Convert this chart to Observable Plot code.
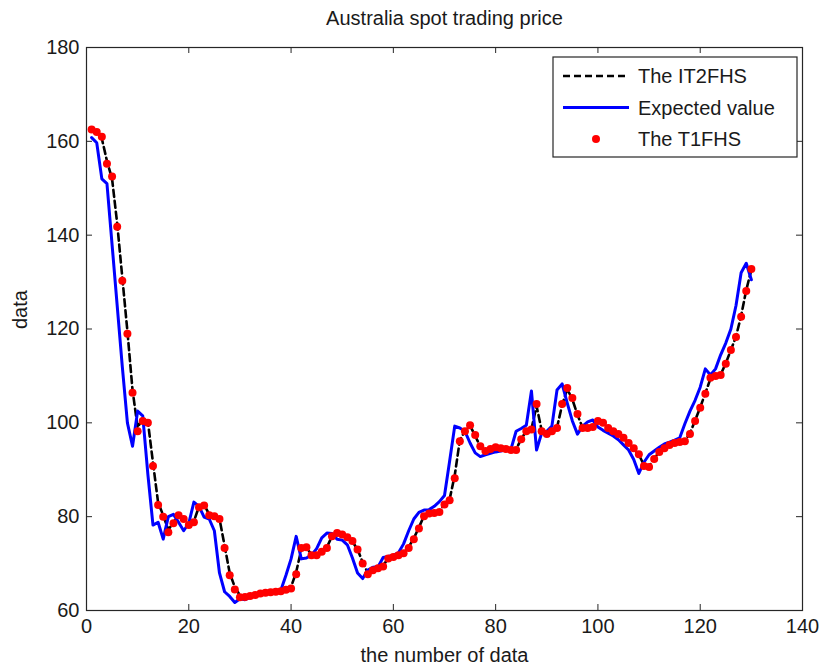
<!DOCTYPE html>
<html><head><meta charset="utf-8">
<script src="https://cdn.jsdelivr.net/npm/d3@7"></script>
<script src="https://cdn.jsdelivr.net/npm/@observablehq/plot@0.6"></script>
<style>body{margin:0;background:#fff} svg{display:block}</style>
</head><body><div id="chart"></div>
<script>
const title = "Australia spot trading price";
const xLabel = "the number of data";
const yLabel = "data";
const seriesNames = ["The IT2FHS", "Expected value", "The T1FHS"];
const xTicks = [0, 20, 40, 60, 80, 100, 120, 140];
const yTicks = [60, 80, 100, 120, 140, 160, 180];

// Expected value (actual series), x = 1..130
const expected = [160.8,159.7,152.0,151.0,138.0,125.0,112.0,100.0,95.0,102.5,
101.5,89.0,78.2,78.8,75.2,80.0,80.5,78.8,77.0,78.6,
83.1,82.2,79.9,79.5,77.0,68.0,64.0,63.0,61.7,62.5,
62.3,62.8,63.2,63.5,63.7,63.8,64.0,64.3,67.5,71.0,
75.8,71.0,71.2,71.8,73.2,75.5,76.5,76.4,75.2,75.0,
74.0,71.2,68.0,66.8,68.6,69.2,69.3,71.3,71.5,71.8,
72.3,74.2,77.0,79.5,80.9,81.4,81.5,82.2,83.2,84.5,
91.8,99.3,98.9,98.2,95.7,93.6,92.8,93.2,93.5,93.8,
94.0,94.2,94.4,98.2,98.8,99.5,106.8,94.2,97.8,98.2,
99.3,107.0,108.3,104.2,100.4,97.6,99.3,100.2,100.6,99.1,
98.4,97.8,97.2,96.4,95.3,94.2,92.2,89.2,91.6,93.2,
94.0,94.8,95.5,95.9,96.3,96.8,99.8,102.5,104.8,107.6,
111.5,110.2,111.5,114.5,117.0,120.0,125.0,132.0,134.0,130.5];

// The T1FHS forecast
const t1fhs = [162.5,162.0,161.0,155.2,152.5,141.8,130.3,119.0,106.4,98.2,
100.4,100.0,90.8,82.5,80.0,76.7,78.6,80.3,79.5,78.2,
78.8,82.0,82.4,80.3,80.1,79.5,73.3,67.5,64.5,62.8,
62.9,63.1,63.3,63.6,63.8,63.9,64.0,64.1,64.4,64.7,
67.7,73.3,73.5,71.8,71.8,72.5,73.3,75.8,76.5,76.2,
75.6,74.8,73.0,70.0,67.7,68.6,69.0,69.4,71.1,71.4,
71.8,72.2,73.3,75.2,77.5,80.1,80.7,80.8,81.0,82.6,
83.5,88.2,96.1,98.2,99.5,97.4,95.0,94.0,94.4,94.8,
94.6,94.4,94.2,94.2,96.5,98.2,98.6,104.0,98.2,97.6,
98.2,98.9,104.0,107.4,105.3,101.9,98.9,98.9,99.1,100.4,
100.0,98.9,98.2,97.6,96.8,95.7,94.6,93.3,90.8,90.6,
92.3,93.8,94.6,95.3,95.7,95.9,96.1,97.6,100.4,103.2,
106.2,109.6,110.0,110.2,112.6,115.5,118.3,122.6,128.1,132.8];

// The IT2FHS forecast
const it2fhs = [162.3,161.8,160.6,155.8,152.0,142.5,131.0,119.5,107.0,99.0,
101.0,100.3,91.5,83.0,80.3,77.2,78.8,80.2,79.4,78.4,
79.0,82.2,82.5,80.5,80.2,79.6,73.8,68.0,65.0,63.2,
63.0,63.2,63.4,63.6,63.8,63.9,64.0,64.2,64.5,65.0,
68.2,73.0,73.3,72.0,72.0,72.6,73.5,75.8,76.4,76.1,
75.5,74.7,73.0,70.3,68.0,68.7,69.1,69.6,71.1,71.5,
71.9,72.3,73.5,75.4,77.7,80.2,80.8,80.9,81.2,82.7,
83.7,88.8,96.3,98.3,99.4,97.2,95.0,94.1,94.4,94.7,
94.6,94.4,94.3,94.3,96.6,98.2,98.7,103.6,98.4,97.7,
98.2,99.0,103.8,107.2,105.0,101.7,99.0,99.0,99.2,100.3,
99.9,98.9,98.2,97.5,96.7,95.6,94.5,93.2,91.0,90.8,
92.4,93.8,94.6,95.2,95.6,95.9,96.2,97.8,100.5,103.3,
106.3,109.4,110.0,110.3,112.7,115.5,118.4,122.8,128.3,132.6];

const colors = ["#000000", "#0000ff", "#ff0000"];
const font = "'Liberation Sans', Arial, sans-serif";

const W = 822, H = 665;
const mL = 86, mR = 20, mT = 47, mB = 55;
const plotH = H - mT - mB, plotW = W - mL - mR;
const tl = 6;
const fs = 20;

const xi = (d, i) => i + 1;

const chart = Plot.plot({
  width: W, height: H,
  marginLeft: mL, marginRight: mR, marginTop: mT, marginBottom: mB,
  style: {fontFamily: font, fontSize: fs + "px", color: "#1a1a1a", background: "#fff"},
  x: {domain: [0, 140]},
  y: {domain: [60, 180]},
  marks: [
    Plot.line(it2fhs, {x: xi, y: d => d, stroke: colors[0], strokeWidth: 2.6, strokeDasharray: "7,4"}),
    Plot.line(expected, {x: xi, y: d => d, stroke: colors[1], strokeWidth: 3}),
    Plot.dot(t1fhs, {x: xi, y: d => d, r: 4, fill: colors[2], stroke: "none"}),
    Plot.frame({stroke: "#262626", strokeWidth: 1.2}),
    Plot.tickX(xTicks, {x: d => d, insetTop: plotH - tl, stroke: "#262626"}),
    Plot.tickX(xTicks, {x: d => d, insetBottom: plotH - tl, stroke: "#262626"}),
    Plot.tickY(yTicks, {y: d => d, insetRight: plotW - tl, stroke: "#262626"}),
    Plot.tickY(yTicks, {y: d => d, insetLeft: plotW - tl, stroke: "#262626"}),
    Plot.axisX(xTicks, {tickSize: 0, tickPadding: 8, label: null, fontSize: fs}),
    Plot.axisY(yTicks, {tickSize: 0, tickPadding: 7, label: null, fontSize: fs}),
    Plot.text([xLabel], {frameAnchor: "bottom", lineAnchor: "middle", dy: 45, text: d => d, fontSize: fs}),
    Plot.text([yLabel], {frameAnchor: "left", lineAnchor: "middle", dx: -66, rotate: -90, text: d => d, fontSize: fs}),
    Plot.text([title], {frameAnchor: "top", lineAnchor: "middle", dy: -29, text: d => d, fontSize: fs})
  ]
});
document.getElementById("chart").appendChild(chart);

// Legend
const svg = d3.select(chart);
const lg = svg.append("g").attr("font-family", font).attr("font-size", fs).attr("text-anchor", "start");
const lx = 553, ly = 57, lw = 244, lh = 100;
lg.append("rect").attr("x", lx).attr("y", ly).attr("width", lw).attr("height", lh)
  .attr("fill", "#fff").attr("stroke", "#262626").attr("stroke-width", 1.2);
seriesNames.forEach((name, i) => {
  const cy = ly + 19 + i * 31.5;
  if (i === 0) {
    lg.append("line").attr("x1", lx + 10).attr("x2", lx + 76).attr("y1", cy).attr("y2", cy)
      .attr("stroke", colors[0]).attr("stroke-width", 2.6).attr("stroke-dasharray", "7,4");
  } else if (i === 1) {
    lg.append("line").attr("x1", lx + 10).attr("x2", lx + 76).attr("y1", cy).attr("y2", cy)
      .attr("stroke", colors[1]).attr("stroke-width", 3);
  } else {
    lg.append("circle").attr("cx", lx + 43).attr("cy", cy).attr("r", 4).attr("fill", colors[2]);
  }
  lg.append("text").attr("x", lx + 85).attr("y", cy).attr("dy", "0.35em")
    .attr("text-anchor", "start").attr("fill", "#1a1a1a").text(name);
});
</script>
</body></html>
